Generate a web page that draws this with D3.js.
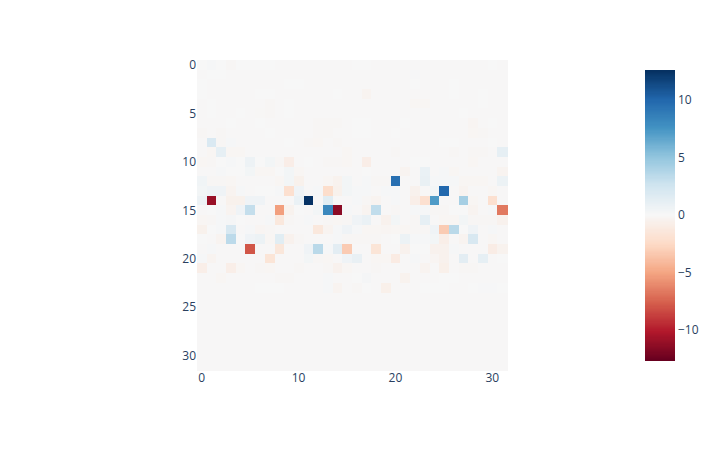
<!DOCTYPE html>
<html lang="en">
<head>
  <meta charset="UTF-8" />
  <title>Heatmap</title>
  <style>
    body { margin: 0; background: #fff; }
    svg { display: block; }
    text { font-family: 'Open Sans', sans-serif; font-size: 12px; fill: #2a3f5f; }
    .domain { display: none; }
  </style>
</head>
<body>
  <svg id="chart" width="718" height="450"></svg>

  <script src="https://d3js.org/d3.v7.min.js"></script>
  <script>
    const xTicks = [0, 10, 20, 30];
    const yTicks = [0, 5, 10, 15, 20, 25, 30];
    const barTicks = [-10, -5, 0, 5, 10];
    const zRange = [-12.6, 12.6];
    const zMid = 0.07; // empty cells come out very slightly warm

    // plotly RdBu, low to high
    const rdBu = ["#67001f", "#b2182b", "#d6604d", "#f4a582", "#fddbc7", "#f7f7f7", "#d1e5f0", "#92c5de", "#4393c3", "#2166ac", "#053061"];

    // one row per y index
    const heat = [
      [.1,.2,.1,-.1,.05,.05,.05,.05,0,0,0,0,0,0,0,0,.1,.1,0,0,0,0,0,0,0,0,0,0,0,0,.1,0],
      [0,.1,.05,0,0,0,0,0,0,0,0,0,0,0,0,0,0,0,0,0,0,0,.15,0,0,0,0,0,0,0,0,0],
      [.05,0,0,0,0,0,0,0,0,.1,.1,0,0,0,0,0,0,0,0,0,0,0,.1,0,0,0,.1,0,0,0,0,0],
      [.1,0,0,0,0,0,.1,.1,0,0,0,0,0,0,.1,0,0,-.3,0,0,0,0,0,0,0,0,.1,0,0,.1,0,0],
      [0,.1,0,0,0,0,0,-.1,0,.1,0,0,0,0,0,0,0,0,0,0,0,0,-.15,-.15,0,0,0,0,0,.1,0,0],
      [0,.1,0,0,.1,0,-.05,-.1,0,.1,0,0,0,0,0,0,0,0,0,0,0,0,0,0,0,0,0,.1,0,0,0,0],
      [0,0,0,.1,0,0,.1,0,0,0,0,0,-.1,-.1,-.1,0,.1,.1,0,0,0,.1,0,0,0,0,0,0,-.2,0,.1,0],
      [-.1,0,-.1,0,0,0,0,.1,0,0,0,0,-.1,-.1,0,0,.1,.1,0,0,.1,0,0,0,0,0,0,0,-.15,-.1,0,0],
      [0,2,-.1,.2,0,0,0,0,0,.1,0,-.1,-.15,0,-.1,0,0,0,0,0,0,0,0,0,0,.1,.1,0,0,0,.1,0],
      [0,-.15,1.2,-.15,-.15,0,0,0,0,0,0,0,0,0,0,-.15,0,0,0,0,-.1,0,0,0,0,0,-.1,0,-.1,-.1,0,1.2],
      [-.15,-.1,.1,.2,.1,.7,.1,.4,-.1,-.8,0,.1,0,-.1,-.1,-.15,0,-.8,0,0,0,0,.1,.1,0,0,0,0,-.15,0,0,0],
      [0,0,.2,.1,.1,.4,-.15,-.15,.1,.4,-.15,0,0,0,0,0,0,.1,0,0,0,-.3,0,.9,0,.2,-.15,0,0,0,0,-.3],
      [.5,-.1,-.1,-.15,0,0,0,0,-.15,.4,-.5,0,0,-.15,-.4,.4,0,.2,-.1,-.1,9.6,0,0,1,.2,.2,.2,-.15,-.15,-.15,0,.8],
      [.4,.6,.6,-.3,.2,0,.1,.1,.2,-2,.6,0,.2,-2.2,-.5,.4,.2,.2,0,.2,.2,0,-.45,0,.4,10,0,-.3,0,0,-.15,0],
      [.7,-10.9,0,-.5,-.5,.6,.6,0,0,0,.9,12.5,0,1.5,0,0,.2,-.1,-.3,0,.2,0,-.7,-2,7.2,0,0,4.3,-.15,0,-2,0],
      [0,.1,.2,-.3,.6,3.1,0,0,-5.2,-.4,.1,0,.4,8.2,-11.4,.2,0,-.3,3.2,0,-.1,0,.2,.2,-.1,-.1,.1,.1,-.3,0,.2,-6.6],
      [-.15,-.1,.2,.3,.1,0,0,.2,-1.3,-.1,0,.2,0,-.1,-.15,-.1,.6,.9,0,-.45,.4,0,-.1,1.2,0,-.15,-.15,.4,-.1,-.1,-.1,-.45],
      [-.5,.1,.2,2.1,0,.2,-.2,-.1,0,0,0,0,-1.3,-.3,.2,.6,.2,-.15,-.15,-.2,-.15,-.15,-.1,-.1,.6,-3.2,3.5,.1,.6,0,.2,0],
      [.1,0,-.3,3.4,.1,.6,.8,-.15,1.5,-.45,-.1,0,0,0,.2,-.1,-.1,-.1,-.1,0,.1,.8,.2,.2,.4,-.7,0,-.3,2.1,0,-.15,0],
      [0,.2,0,0,0,-7.9,0,0,-1.4,0,0,.6,3.5,.2,1.4,-3.2,0,0,-1.6,0,0,-.45,.1,.1,-.45,-.45,.2,0,0,0,-.9,-.4],
      [.2,-.3,0,0,0,0,0,-1.6,0,0,0,.4,-.1,-.15,0,.6,1,0,-.15,-.15,-1,0,.2,0,-.2,-.45,0,1.4,0,1.2,0,.1],
      [-.7,0,0,-.7,-.15,0,-.1,-.15,0,0,-.1,0,0,-.1,-.45,-.15,0,0,-.1,0,0,0,0,-.3,0,-.6,0,-.1,-.1,0,0,0],
      [0,0,-.15,0,0,0,0,0,-.1,-.1,0,0,0,.2,0,0,.1,.3,0,0,0,-.4,0,0,0,.1,.1,0,0,0,0,0],
      [0,0,0,0,0,0,.1,.1,.1,0,0,0,0,.2,-.3,0,-.1,.1,0,-.6,0,0,0,.05,.1,.1,0,0,.1,.15,.15,.1],
      [0,0,0,0,0,0,0,0,0,0,0,0,0,0,0,0,0,0,0,0,0,0,0,0,0,0,0,0,0,0,0,0],
      [0,0,0,0,0,0,0,0,0,0,0,0,0,0,0,0,0,0,0,0,0,0,0,0,0,0,0,0,0,0,0,0],
      [0,0,0,0,0,0,0,0,0,0,0,0,0,0,0,0,0,0,0,0,0,0,0,0,0,0,0,0,0,0,0,0],
      [0,0,0,0,0,0,0,0,0,0,0,0,0,0,0,0,0,0,0,0,0,0,0,0,0,0,0,0,0,0,0,0],
      [0,0,0,0,0,0,0,0,0,0,0,0,0,0,0,0,0,0,0,0,0,0,0,0,0,0,0,0,0,0,0,0],
      [0,0,0,0,0,0,0,0,0,0,0,0,0,0,0,0,0,0,0,0,0,0,0,0,0,0,0,0,0,0,0,0],
      [0,0,0,0,0,0,0,0,0,0,0,0,0,0,0,0,0,0,0,0,0,0,0,0,0,0,0,0,0,0,0,0],
      [0,0,0,0,0,0,0,0,0,0,0,0,0,0,0,0,0,0,0,0,0,0,0,0,0,0,0,0,0,0,0,0]
    ];

    const svg = d3.select("#chart");

    const x = d3.scaleLinear().domain([-0.5, 31.5]).range([197, 507]);
    const y = d3.scaleLinear().domain([-0.5, 31.5]).range([60, 370]);
    // five stops each side of the middle colour
    const colorDomain = rdBu.map((c, i) => i <= 5
      ? zRange[0] + (zMid - zRange[0]) * i / 5
      : zMid + (zRange[1] - zMid) * (i - 5) / 5);
    const color = d3.scaleLinear().domain(colorDomain).range(rdBu).clamp(true);

    const cells = heat.flatMap((row, r) => row.map((v, c) => ({ r, c, v })));

    svg.append("g")
      .attr("shape-rendering", "crispEdges")
      .selectAll("rect")
      .data(cells)
      .join("rect")
      .attr("x", d => x(d.c - 0.5))
      .attr("y", d => y(d.r - 0.5))
      .attr("width", x(1) - x(0) + 0.5)
      .attr("height", y(1) - y(0) + 0.5)
      .attr("fill", d => color(d.v));

    svg.append("g")
      .attr("transform", "translate(-0.7,370)")
      .call(d3.axisBottom(x).tickValues(xTicks).tickSize(0).tickPadding(3))
      .call(g => g.selectAll("text").attr("font-size", null).attr("font-family", null));

    svg.append("g")
      .attr("transform", "translate(197,0)")
      .call(d3.axisLeft(y).tickValues(yTicks).tickSize(0).tickPadding(1))
      .call(g => g.selectAll("text").attr("font-size", null).attr("font-family", null));

    // colorbar
    const barY = d3.scaleLinear().domain(zRange).range([360, 70]);
    const barSteps = d3.range(zRange[0], zRange[1], 0.1);

    svg.append("g")
      .attr("shape-rendering", "crispEdges")
      .selectAll("rect")
      .data(barSteps)
      .join("rect")
      .attr("x", 645)
      .attr("width", 30)
      .attr("y", d => barY(d + 0.1))
      .attr("height", barY(0) - barY(0.1) + 0.5)
      .attr("fill", d => color(d + 0.05));

    svg.append("g")
      .attr("transform", "translate(675,0)")
      .call(d3.axisRight(barY).tickValues(barTicks).tickSize(0).tickPadding(3).tickFormat(d3.format("d")))
      .call(g => g.selectAll("text").attr("font-size", null).attr("font-family", null));
  </script>
</body>
</html>
